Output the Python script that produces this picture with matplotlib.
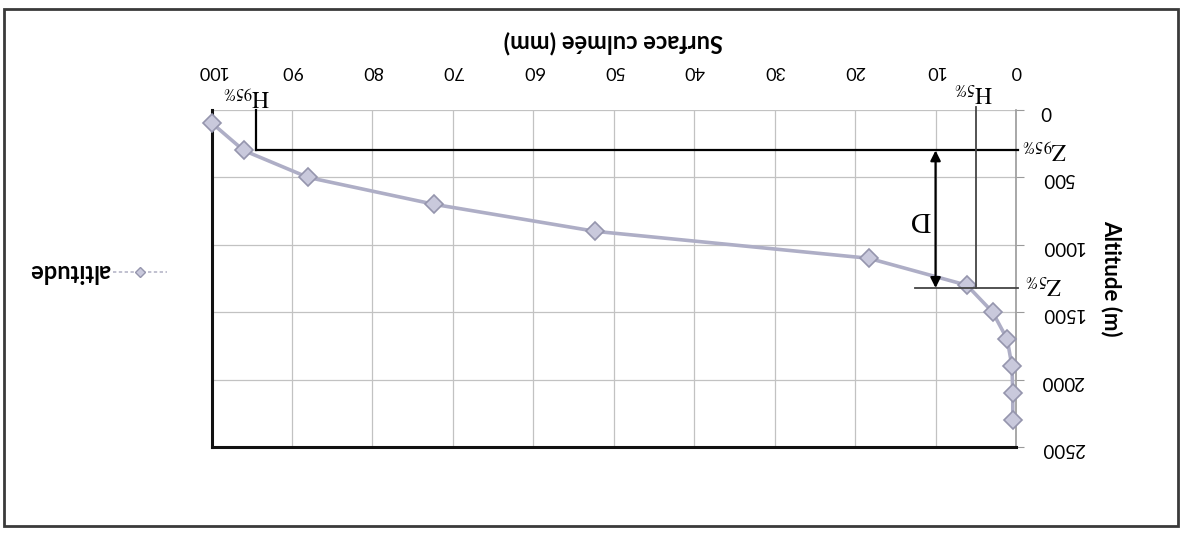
import matplotlib
matplotlib.use("Agg")
import matplotlib.pyplot as plt
from matplotlib.lines import Line2D
from matplotlib.patches import Rectangle

# Hypsometric curve: cumulated surface vs altitude
altitude = [100, 300, 500, 700, 900, 1100, 1300, 1500, 1700, 1900, 2100, 2300]
surface = [99.9, 96.0, 88.0, 72.3, 52.3, 18.3, 6.1, 2.9, 1.1, 0.5, 0.4, 0.4]

x_ticks = [0, 10, 20, 30, 40, 50, 60, 70, 80, 90, 100]
y_ticks = [0, 500, 1000, 1500, 2000, 2500]

h95, z95 = 94.5, 300
h5, z5 = 5.0, 1320
d_x = 10

plt.rcParams['font.family'] = ['Lato', 'DejaVu Sans']
plt.rcParams['mathtext.fontset'] = 'stix'

W, H = 1183, 534
fig = plt.figure(figsize=(W / 100, H / 100), dpi=100)
fig.patch.set_facecolor('white')

# outer chart border
fig.patches.append(Rectangle((4 / W, 1 - 526 / H), 1174 / W, 517 / H,
                             transform=fig.transFigure, fill=False,
                             edgecolor='#3a3a3a', lw=2))

ax = fig.add_axes([211.5 / W, 1 - 447 / H, (1016 - 211.5) / W, (447 - 110) / H])
ax.set_xlim(100, 0)
ax.set_ylim(2500, 0)

ax.set_xticks(x_ticks)
ax.set_yticks(y_ticks)
ax.xaxis.tick_top()
ax.yaxis.tick_right()
ax.xaxis.set_label_position('top')
ax.yaxis.set_label_position('right')
ax.tick_params(axis='x', length=0, pad=22, labelsize=13, labelrotation=180)
ax.tick_params(axis='y', length=6, color='#9a9a9a', pad=12, labelsize=13.5,
               labelrotation=180)

ax.grid(True, color='#c2c2c2', lw=0.9)
ax.set_axisbelow(True)

for side in ('left', 'bottom'):
    ax.spines[side].set_color('#111111')
    ax.spines[side].set_linewidth(2.2)
ax.spines['right'].set_color('#9a9a9a')
ax.spines['right'].set_linewidth(1.2)
ax.spines['top'].set_visible(False)

ax.set_xlabel('Surface culmée (mm)', fontsize=17, fontweight='bold',
              rotation=180, labelpad=10)
ax.set_ylabel('Altitude (m)', fontsize=16, fontweight='bold', rotation=270,
              labelpad=19, va='center')

ax.plot(surface, altitude, color='#aeaec6', lw=2.6, marker='D', ms=9,
        mfc='#c9c9dc', mec='#9595ad', mew=1.2, zorder=4, clip_on=False)

# reference lines for the 95 % and 5 % levels
ln = dict(color='black', lw=1.6, zorder=5, clip_on=False)
ax.plot([h95, h95], [0, z95], **ln)
ax.plot([h95, -0.3], [z95, z95], **ln)
ax.plot([h5, h5], [-20, z5], color='#444444', lw=1.3, zorder=5, clip_on=False)
ax.plot([12.5, -0.3], [z5, z5], color='#444444', lw=1.3, zorder=5, clip_on=False)

ax.annotate('', xy=(d_x, z95), xytext=(d_x, z5),
            arrowprops=dict(arrowstyle='<|-|>', color='black', lw=1.6,
                            mutation_scale=15, shrinkA=0, shrinkB=0),
            zorder=6)

lab = dict(rotation=180, ha='center', va='center', fontsize=17, clip_on=False)
ax.text(95.7, -104, r'$\mathrm{H}_{95\%}$', **lab)
ax.text(5.3, -134, r'$\mathrm{H}_{5\%}$', **lab)
ax.text(-3.6, 290, r'$\mathrm{Z}_{95\%}$', **lab)
ax.text(-3.4, 1290, r'$\mathrm{Z}_{5\%}$', **lab)
ax.text(11.8, 815, r'$\mathrm{D}$', rotation=180, ha='center', va='center',
        fontsize=20)

# legend entry
ly = 1 - 272 / H
fig.add_artist(Line2D([113 / W, 167 / W], [ly, ly], transform=fig.transFigure,
                      color='#b6b6c8', lw=1.2, ls=(0, (2, 1.5))))
fig.add_artist(Line2D([140 / W], [ly], transform=fig.transFigure, marker='D',
                      ms=5, mfc='#c9c9dc', mec='#9595ad', lw=0))
fig.text(110 / W, ly, 'altitude', rotation=180, ha='right', va='center',
         fontsize=17, fontweight='bold')

fig.savefig('out.png', dpi=100, facecolor='white')
